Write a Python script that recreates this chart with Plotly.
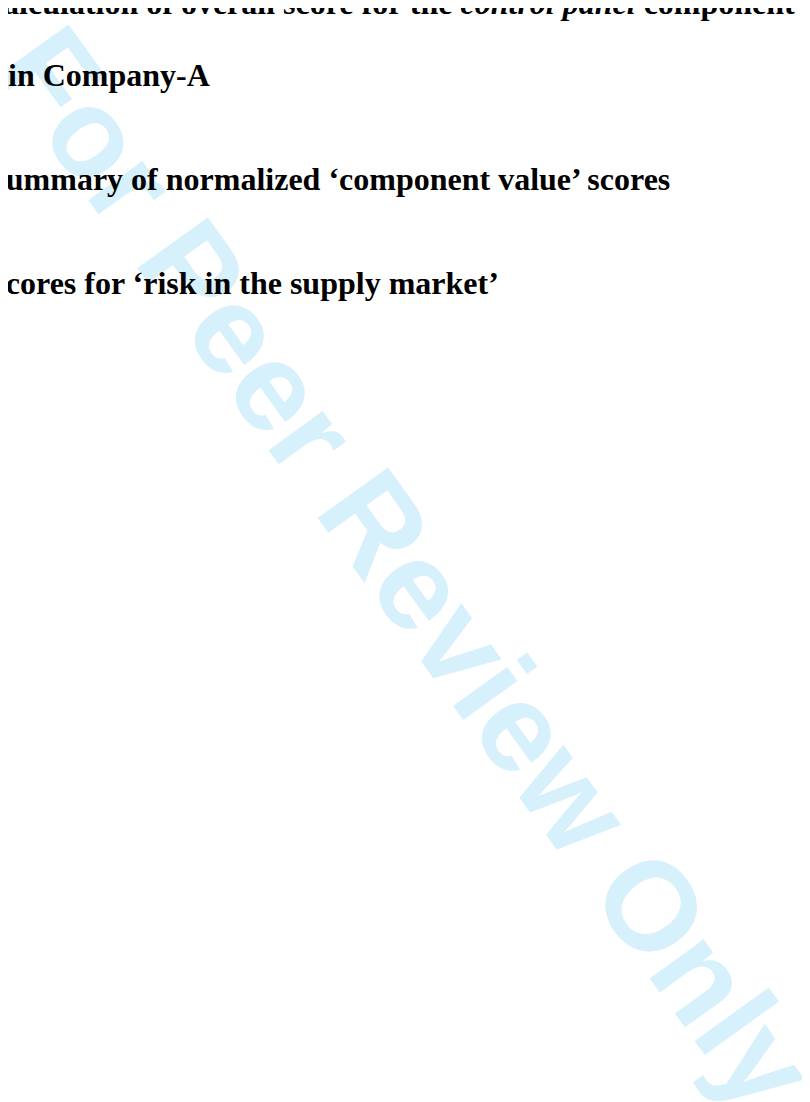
import plotly.graph_objects as go

W, H = 810, 1102

# Text lines of the page (leading characters fall just outside the left edge)
lines = [
    "Calculation of overall score for the <i>control panel</i> component for the",
    "in Company-A",
    "Summary of normalized \u2018component value\u2019 scores",
    "Scores for \u2018risk in the supply market\u2019",
]
line_left_px = [-30, -2, -22, -22]     # left edge of each line (px)
line_baseline_px = [6, 78, 182, 286]   # baseline of each line (px)

watermark_text = "For Peer Review Only"
watermark_center_px = (400, 560)
watermark_angle = 54.2

FONT_SIZE = 32
WM_SIZE = 126

fig = go.Figure()

annotations = []
annotations.append(dict(
    text="<b>" + watermark_text + "</b>",
    x=watermark_center_px[0] / W, y=1 - watermark_center_px[1] / H,
    xref="paper", yref="paper", xanchor="center", yanchor="middle",
    textangle=watermark_angle, showarrow=False,
    font=dict(family="Liberation Sans, Arial, sans-serif", size=WM_SIZE,
              color="rgb(214,240,252)"),
))
for txt, lx, bl in zip(lines, line_left_px, line_baseline_px):
    cy = bl - 0.3375 * FONT_SIZE
    annotations.append(dict(
        text="<b>" + txt + "</b>",
        x=lx / W, y=1 - cy / H,
        xref="paper", yref="paper", xanchor="left", yanchor="middle",
        showarrow=False, align="left",
        font=dict(family="Liberation Serif, Times New Roman, serif",
                  size=FONT_SIZE, color="black"),
    ))

fig.update_layout(
    width=W, height=H,
    margin=dict(l=0, r=0, t=0, b=0),
    paper_bgcolor="white", plot_bgcolor="white",
    xaxis=dict(visible=False, range=[0, 1]),
    yaxis=dict(visible=False, range=[0, 1]),
    annotations=annotations,
    showlegend=False,
)

fig.write_html("out.html", config={"displayModeBar": False})
